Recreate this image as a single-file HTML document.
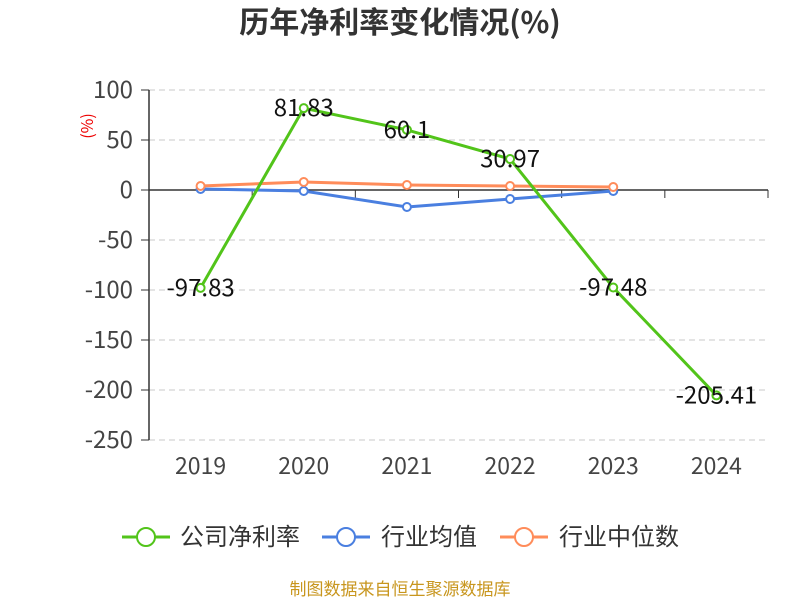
<!DOCTYPE html>
<html><head><meta charset="utf-8"><style>
body{margin:0;background:#fff;}
svg text{font-family:"Noto Sans CJK SC","DejaVu Sans",sans-serif;}
</style></head><body>
<svg id="chart" width="800" height="600" xmlns="http://www.w3.org/2000/svg">
<text x="400" y="33" text-anchor="middle" font-size="30" font-weight="bold" fill="#333">历年净利率变化情况(%)</text>
<text x="93" y="126" font-size="16" fill="#e00" transform="rotate(-90 93 126)" text-anchor="middle">(%)</text>
<g id="grid"></g><g id="axes"></g><g id="series"></g><g id="labels"></g>
<g>
 <g><line x1="122" y1="537" x2="170" y2="537" stroke="#52c41a" stroke-width="3"/><circle cx="146" cy="537" r="9" fill="#fff" stroke="#52c41a" stroke-width="2"/><text x="180" y="545" font-size="24" fill="#333">公司净利率</text></g>
 <g><line x1="322" y1="537" x2="370" y2="537" stroke="#4a7fe0" stroke-width="3"/><circle cx="346" cy="537" r="9" fill="#fff" stroke="#4a7fe0" stroke-width="2"/><text x="381" y="545" font-size="24" fill="#333">行业均值</text></g>
 <g><line x1="500" y1="537" x2="548" y2="537" stroke="#ff8c5a" stroke-width="3"/><circle cx="524" cy="537" r="9" fill="#fff" stroke="#ff8c5a" stroke-width="2"/><text x="559" y="545" font-size="24" fill="#333">行业中位数</text></g>
</g>
<text x="400" y="595" text-anchor="middle" font-size="17" fill="#c8961e">制图数据来自恒生聚源数据库</text>
</svg>
<script>
const categories=["2019","2020","2021","2022","2023","2024"];
const companyValues=[-97.83,81.83,60.1,30.97,-97.48,-205.41];
const industryAvg=[1,-1,-17,-9,-1];
const industryMedian=[4,8,5,4,3];
const yTicks=[100,50,0,-50,-100,-150,-200,-250];
const NS="http://www.w3.org/2000/svg";
const x0=149,x1=768,band=(x1-x0)/categories.length;
function xs(i){return x0+band*(i+0.5);}
function ys(v){return 190-v*1.0;}
function mk(t,a,p){const e=document.createElementNS(NS,t);for(const k in a)e.setAttribute(k,a[k]);if(p)p.appendChild(e);return e;}
const grid=document.getElementById('grid'),axes=document.getElementById('axes'),ser=document.getElementById('series'),lab=document.getElementById('labels');
yTicks.forEach(v=>{
 if(v!==0){const g=mk('line',{x1:x0,x2:x1,y1:ys(v),y2:ys(v),stroke:'#c8c8c8','stroke-dasharray':'6,4'},grid);
 
 }
 mk('line',{x1:x0-8,x2:x0,y1:ys(v),y2:ys(v),stroke:'#333'},axes);
 const t=mk('text',{x:x0-16,y:ys(v)+8,'text-anchor':'end','font-size':24,fill:'#444'},axes);t.textContent=v;
 
 
});
const ya=mk('line',{x1:x0,x2:x0,y1:ys(100),y2:ys(-250),stroke:'#333','stroke-width':1.5},axes);


const xa=mk('line',{x1:x0,x2:x1,y1:ys(0),y2:ys(0),stroke:'#333','stroke-width':1.5},axes);


categories.forEach((c,i)=>{
 mk('line',{x1:x0+band*(i+1),x2:x0+band*(i+1),y1:ys(0),y2:ys(0)+8,stroke:'#333'},axes);
 const t=mk('text',{x:xs(i),y:474,'text-anchor':'middle','font-size':23,fill:'#444'},axes);t.textContent=c;
 
 
});
function series(vals,color,name){
 const p=mk('polyline',{points:vals.map((v,i)=>xs(i)+','+ys(v)).join(' '),fill:'none',stroke:color,'stroke-width':3},ser);
 
 
 vals.forEach((v,i)=>{const c=mk('circle',{cx:xs(i),cy:ys(v),r:4,fill:'#fff',stroke:color,'stroke-width':2},ser);
 
 });
}
series(industryAvg,'#4a7fe0','industry-avg');
series(industryMedian,'#ff8c5a','industry-median');
series(companyValues,'#52c41a','company');
companyValues.forEach((v,i)=>{
 const t=mk('text',{x:xs(i),y:ys(v)+8,'text-anchor':'middle','font-size':24,fill:'#111'},lab);t.textContent=v;
 
 
});
</script>
</body></html>
